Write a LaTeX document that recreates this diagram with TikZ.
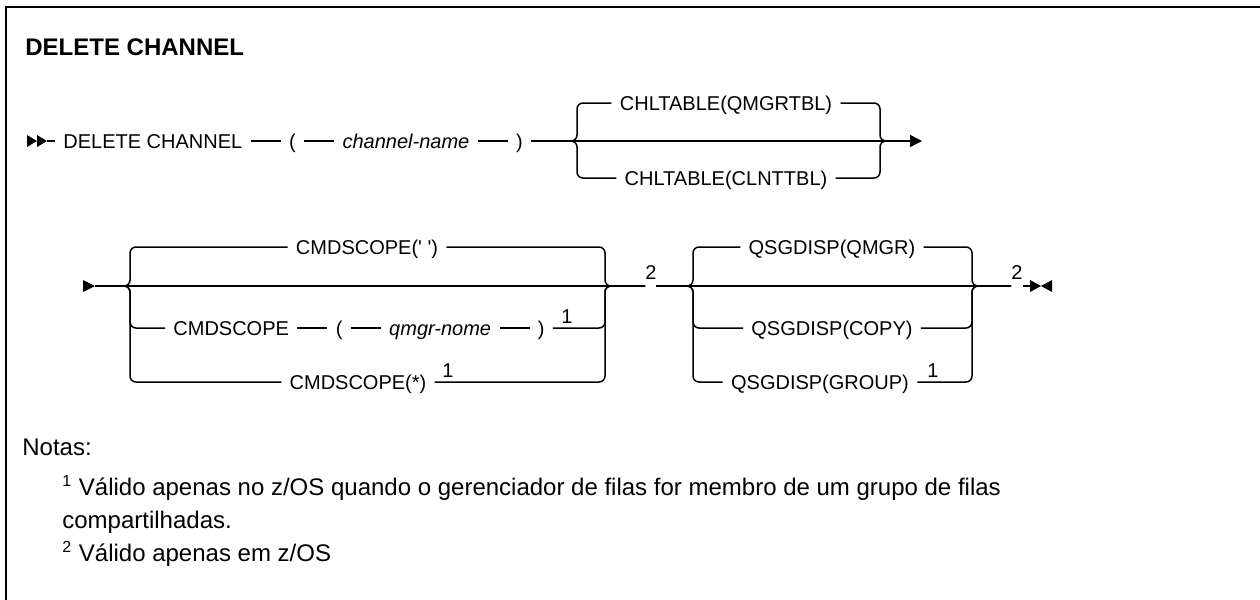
\documentclass[tikz,border=0pt]{standalone}
\usepackage{fontspec}
\setmainfont{Liberation Sans}
\usetikzlibrary{arrows.meta,positioning}

\begin{document}
\begin{tikzpicture}[x=0.5pt,y=-0.5pt,>={Triangle[length=6pt,width=6pt]},
  kw/.style={inner xsep=4pt,inner ysep=0pt,text height=7.2pt,text depth=0pt,
    font=\fontsize{10}{12}\selectfont},
  num/.style={inner sep=0pt,anchor=south,font=\fontsize{10}{12}\selectfont},
  note/.style={inner sep=0pt,anchor=base west,font=\fontsize{12}{14}\selectfont},
  rail/.style={line width=0.75pt},
  fork/.style={rail,rounded corners=3pt}]
  \useasboundingbox (0,0) rectangle (1260,600);
  \draw[line width=1pt] (6,600) -- (6,7) -- (1260,7);

  \node[inner sep=0pt,anchor=west,font=\bfseries\fontsize{12}{14}\selectfont] (ttl) at (25,47) {DELETE CHANNEL};

  % first line
  \coordinate (st) at (47,141);
  \fill (27,135) -- (37,141) -- (27,147) -- cycle;
  \fill (37,135) -- (47,141) -- (37,147) -- cycle;
  \node[kw,right=4pt of st] (dc) {DELETE CHANNEL};
  \node[kw,right=15pt of dc] (lp) {(};
  \node[kw,right=15pt of lp] (cn) {\itshape channel-name};
  \node[kw,right=15pt of cn] (rp) {)};
  \coordinate (j1) at (577,141);
  \coordinate (j2) at (880,141);
  \coordinate (a1) at (922,141);
  \node[kw] (cq) at (726,103) {CHLTABLE(QMGRTBL)};
  \node[kw] (cc) at (726,178) {CHLTABLE(CLNTTBL)};
  \draw[rail] (st) -- (dc) -- (lp) -- (cn) -- (rp);
  \draw[rail,->] (rp) -- (a1);
  \draw[fork] (rp) -- (j1) |- (cq);
  \draw[fork] (rp) -- (j1) |- (cc);
  \draw[fork] (cq) -| (j2) -- ++(8,0);
  \draw[fork] (cc) -| (j2) -- ++(8,0);

  % second line
  \coordinate (s2) at (95,286);
  \fill (83,280) -- (95,286) -- (83,292) -- cycle;
  \coordinate (j3) at (130,286);
  \coordinate (j4) at (605,286);
  \node[kw] (sc0) at (367,247) {CMDSCOPE(\textquotesingle\ \textquotesingle)};
  \node[kw,anchor=west] (sc1) at (165,328) {CMDSCOPE};
  \node[kw,right=15pt of sc1] (lp2) {(};
  \node[kw,right=15pt of lp2] (qn) {\itshape qmgr-nome};
  \node[kw,right=15pt of qn] (rp2) {)};
  \node[num] (n1) at (567,324) {1};
  \node[kw] (sc2) at (358,382) {CMDSCOPE(*)};
  \node[num] (n2) at (448,378) {1};
  \coordinate (g1) at (645,286);
  \coordinate (g2) at (656,286);
  \node[num] (n3) at (651,280) {2};
  \coordinate (j5) at (693,286);
  \coordinate (j6) at (972,286);
  \node[kw] (qm) at (832,247) {QSGDISP(QMGR)};
  \node[kw] (qc) at (832,328) {QSGDISP(COPY)};
  \node[kw] (qg) at (820,382) {QSGDISP(GROUP)};
  \node[num] (n4) at (933,378) {1};
  \coordinate (g3) at (1011,286);
  \coordinate (g4) at (1023,286);
  \node[num] (n5) at (1017,280) {2};
  \coordinate (en) at (1030,286);
  \fill (1030,280) -- (1041,286) -- (1030,292) -- cycle;
  \fill (1052,280) -- (1041,286) -- (1052,292) -- cycle;

  \draw[rail] (s2) -- (g1);
  \draw[rail] (g2) -- (g3);
  \draw[rail] (g4) -- (en);
  \draw[fork] (s2) -- (j3) |- (sc0);
  \draw[fork] (s2) -- (j3) |- (sc1);
  \draw[fork] (s2) -- (j3) |- (sc2);
  \draw[rail] (sc1) -- (lp2) -- (qn) -- (rp2);
  \draw[fork] (sc0) -| (j4) -- (g1);
  \draw[fork] (rp2) -| (j4) -- (g1);
  \draw[fork] (sc2) -| (j4) -- (g1);
  \draw[fork] (g2) -- (j5) |- (qm);
  \draw[fork] (g2) -- (j5) |- (qc);
  \draw[fork] (g2) -- (j5) |- (qg);
  \draw[fork] (qm) -| (j6) -- (g3);
  \draw[fork] (qc) -| (j6) -- (g3);
  \draw[fork] (qg) -| (j6) -- (g3);

  % notes
  \node[note] (nts) at (22,455) {Notas:};
  \node[note] (ft1) at (62,495) {\textsuperscript{1} Válido apenas no z/OS quando o gerenciador de filas for membro de um grupo de filas};
  \node[note] (ft1b) at (62,528) {compartilhadas.};
  \node[note] (ft2) at (62,561) {\textsuperscript{2} Válido apenas em z/OS};
\end{tikzpicture}
\end{document}
